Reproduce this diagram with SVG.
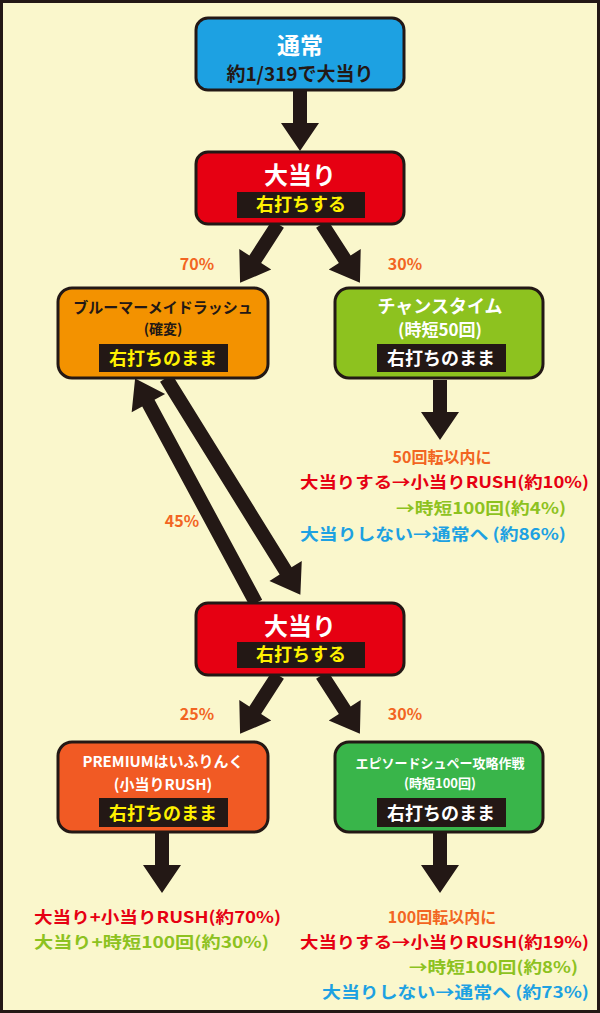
<svg xmlns="http://www.w3.org/2000/svg" width="600" height="1013" viewBox="0 0 600 1013">
<style>
text{font-family:"Noto Sans CJK JP","Noto Sans",sans-serif;font-weight:bold;text-anchor:middle}
.box{stroke:#231815;stroke-width:3}
.band{fill:#231815}
.y{fill:#FFF100;font-size:18px}
.w{fill:#fff}
.o{fill:#F26522}.r{fill:#E60012}.g{fill:#8DC21F}.b{fill:#1DA1E2}
.arr{fill:#231815}
.s{text-anchor:start}
</style>
<defs>
<path id="a70" d="M-7,0 L7,0 L7,42 L19,42 L0,70 L-19,42 L-7,42 Z"/>
<path id="a60" d="M-7,0 L7,0 L7,32 L19,32 L0,60 L-19,32 L-7,32 Z"/>
<path id="a255" d="M-7,0 L7,0 L7,227 L19,227 L0,255 L-19,227 L-7,227 Z"/>
</defs>
<rect x="1.5" y="1.5" width="597" height="1010" fill="#FAF7CC" stroke="#231815" stroke-width="3"/>
<g id="connectors" class="arr">
<use href="#a60" transform="translate(300,91)"/>
<use href="#a70" transform="translate(278,224) rotate(32.8)"/>
<use href="#a70" transform="translate(322,224) rotate(-32.8)"/>
<use href="#a60" transform="translate(440,380)"/>
<use href="#a255" transform="translate(166,378) rotate(-31.8)"/>
<use href="#a255" transform="translate(256,603) rotate(151.7)"/>
<use href="#a70" transform="translate(278,675) rotate(32.8)"/>
<use href="#a70" transform="translate(322,675) rotate(-32.8)"/>
<use href="#a60" transform="translate(162,833)"/>
<use href="#a60" transform="translate(440,833)"/>
</g>
<g id="n-normal">
<rect class="box" x="196" y="18" width="208" height="72" rx="12" fill="#1DA1E2"/>
<text x="300" y="54" class="w" font-size="23">通常</text>
<text x="300" y="81" font-size="19" fill="#231815">約1/319で大当り</text>
</g>
<g id="n-hit1">
<rect class="box" x="196" y="152" width="208" height="72" rx="12" fill="#E60012"/>
<text x="300" y="184" class="w" font-size="24">大当り</text>
<rect class="band" x="237" y="192" width="128" height="26"/>
<text x="301" y="211" class="y">右打ちする</text>
</g>
<text x="197" y="270" class="o" font-size="16">70%</text>
<text x="405" y="270" class="o" font-size="16">30%</text>
<g id="n-blue">
<rect class="box" x="58" y="288" width="210" height="90" rx="14" fill="#F39200"/>
<text x="163" y="313" font-size="15" fill="#231815">ブルーマーメイドラッシュ</text>
<text x="163" y="334" font-size="14" fill="#231815">(確変)</text>
<rect class="band" x="99" y="344" width="129" height="28"/>
<text x="163" y="365" class="y">右打ちのまま</text>
</g>
<g id="n-chance">
<rect class="box" x="335" y="288" width="208" height="90" rx="14" fill="#8DC21F"/>
<text x="440" y="313" class="w" font-size="18">チャンスタイム</text>
<text x="440" y="336" class="w" font-size="17">(時短50回)</text>
<rect class="band" x="377" y="344" width="129" height="28"/>
<text x="441" y="365" class="w" font-size="18">右打ちのまま</text>
</g>
<g id="t-chance">
<text x="442" y="463" class="o" font-size="16">50回転以内に</text>
<text x="300" y="488" class="r s" font-size="16" textLength="289" lengthAdjust="spacingAndGlyphs">大当りする→小当りRUSH(約10%)</text>
<text x="396" y="514" class="g s" font-size="16" textLength="170" lengthAdjust="spacingAndGlyphs">→時短100回(約4%)</text>
<text x="300" y="540" class="b s" font-size="16" textLength="266" lengthAdjust="spacingAndGlyphs">大当りしない→通常へ (約86%)</text>
</g>
<text x="182" y="527" class="o" font-size="16">45%</text>
<g id="n-hit2">
<rect class="box" x="196" y="603" width="208" height="72" rx="12" fill="#E60012"/>
<text x="300" y="635" class="w" font-size="24">大当り</text>
<rect class="band" x="237" y="642" width="128" height="26"/>
<text x="301" y="661" class="y">右打ちする</text>
</g>
<text x="197" y="720" class="o" font-size="16">25%</text>
<text x="405" y="720" class="o" font-size="16">30%</text>
<g id="n-premium">
<rect class="box" x="58" y="742" width="210" height="90" rx="14" fill="#F15A24"/>
<text x="163" y="767" class="w" font-size="15">PREMIUMはいふりんく</text>
<text x="163" y="790" class="w" font-size="15">(小当りRUSH)</text>
<rect class="band" x="99" y="798" width="129" height="29"/>
<text x="163" y="820" class="y">右打ちのまま</text>
</g>
<g id="n-episode">
<rect class="box" x="335" y="742" width="208" height="90" rx="14" fill="#39B54A"/>
<text x="440" y="768" class="w" font-size="13">エピソードシュペー攻略作戦</text>
<text x="440" y="788" class="w" font-size="13">(時短100回)</text>
<rect class="band" x="377" y="798" width="129" height="29"/>
<text x="441" y="820" class="w" font-size="18">右打ちのまま</text>
</g>
<g id="t-premium">
<text x="34" y="923" class="r s" font-size="16" textLength="247" lengthAdjust="spacingAndGlyphs">大当り+小当りRUSH(約70%)</text>
<text x="34" y="948" class="g s" font-size="16" textLength="235" lengthAdjust="spacingAndGlyphs">大当り+時短100回(約30%)</text>
</g>
<g id="t-episode">
<text x="442" y="923" class="o" font-size="16">100回転以内に</text>
<text x="300" y="948" class="r s" font-size="16" textLength="289" lengthAdjust="spacingAndGlyphs">大当りする→小当りRUSH(約19%)</text>
<text x="409" y="973" class="g s" font-size="16" textLength="169" lengthAdjust="spacingAndGlyphs">→時短100回(約8%)</text>
<text x="322" y="998" class="b s" font-size="16" textLength="267" lengthAdjust="spacingAndGlyphs">大当りしない→通常へ (約73%)</text>
</g>
</svg>
